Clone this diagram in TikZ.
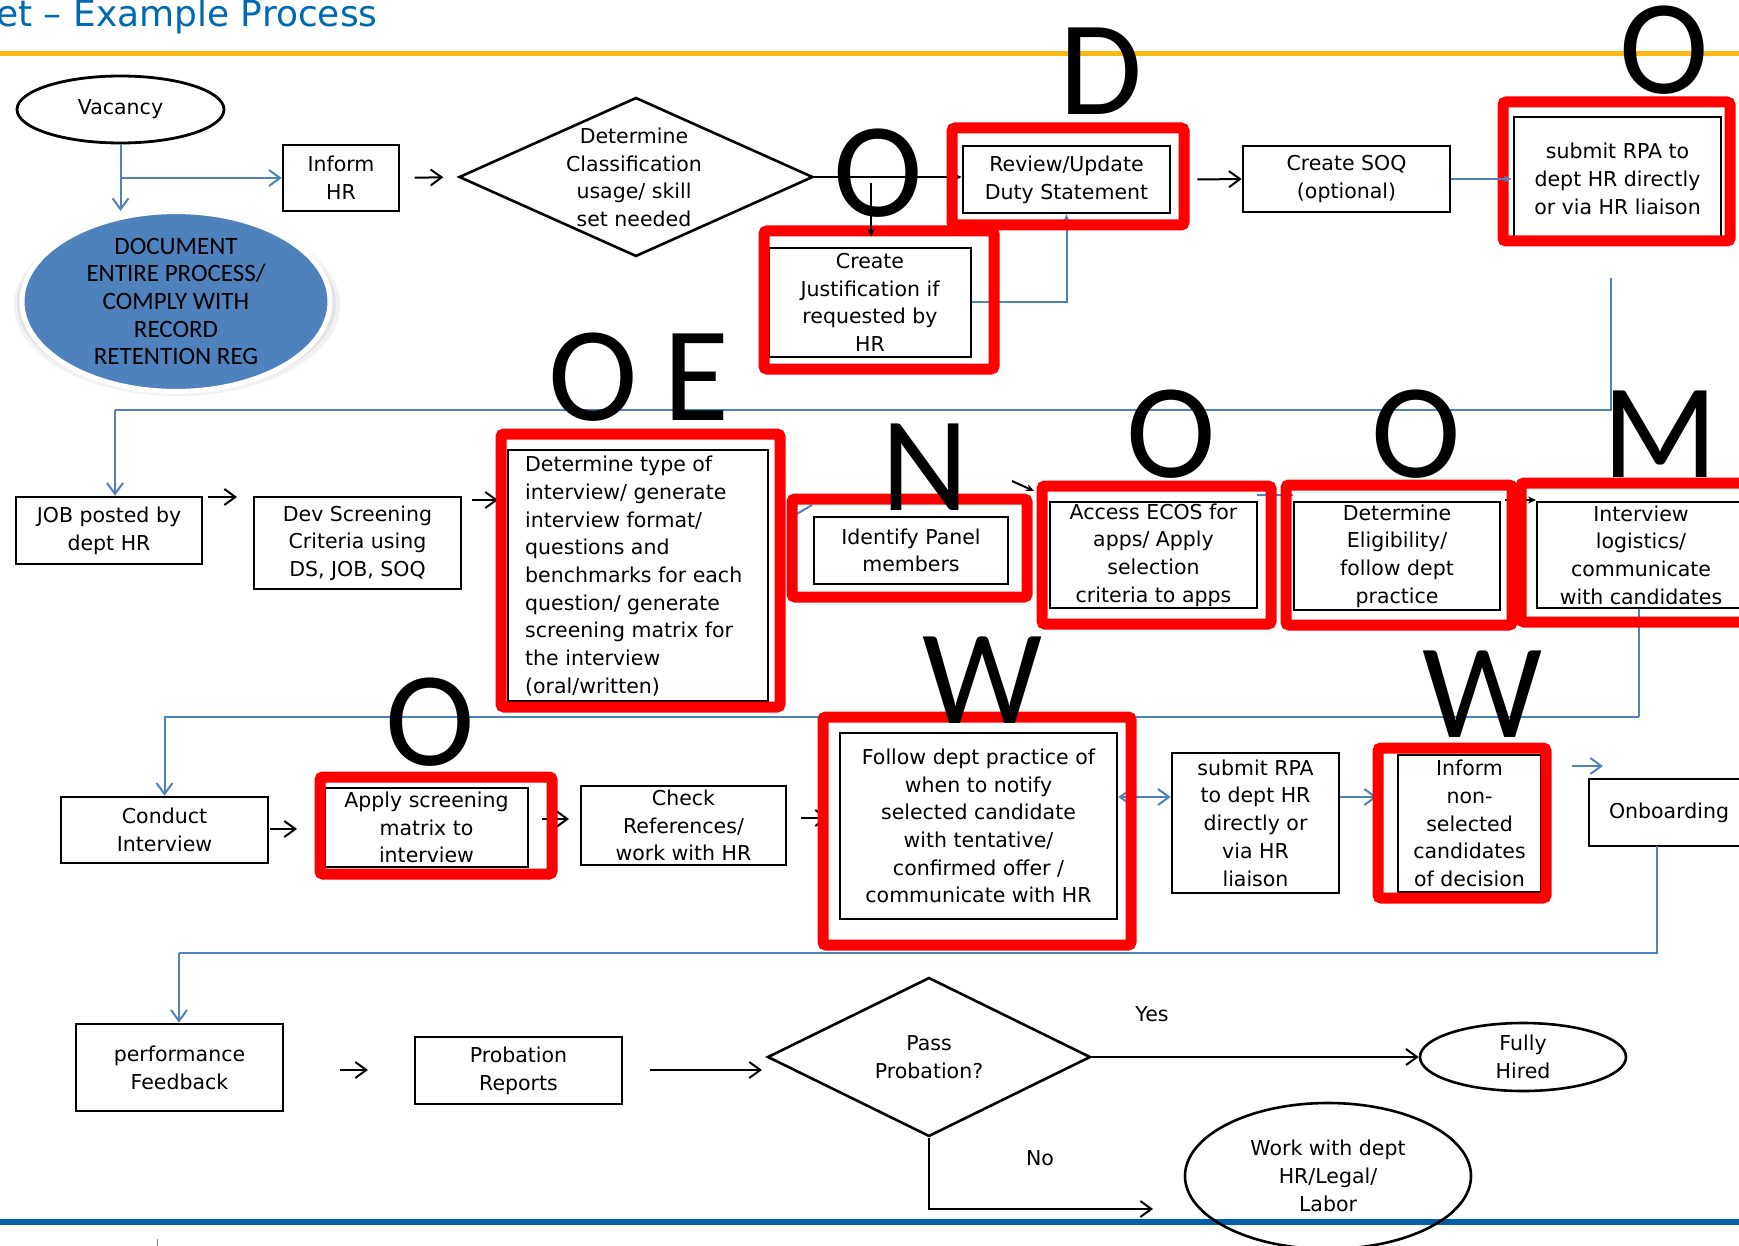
\documentclass[tikz,border=0pt]{standalone}
\usepackage{fontspec}
\usetikzlibrary{arrows.meta,shapes.geometric,calc}
\newfontfamily\dvs{DejaVu Sans}
\newfontfamily\crl{Carlito}
\definecolor{ttlblue}{RGB}{0,105,180}
\definecolor{orng}{RGB}{253,185,19}
\definecolor{lnblue}{RGB}{79,129,189}
\definecolor{botblue}{RGB}{0,98,165}
\definecolor{docblue}{RGB}{79,129,189}
\begin{document}
\begin{tikzpicture}[x=1pt,y=-1pt,
  box/.style={draw, line width=2.6pt, inner sep=0pt, align=center, font=\dvs\fontsize{20.5}{27.7}\selectfont},
  txt/.style={inner sep=0pt, align=center, font=\dvs\fontsize{20.5}{27.7}\selectfont},
  rf/.style={draw=red, line width=11pt, rounded corners=3pt},
  bl/.style={draw=lnblue, line width=2pt},
  bk/.style={draw=black, line width=2pt},
  barb/.style={-{Straight Barb[length=11pt,width=16pt]}},
  dbarb/.style={{Straight Barb[length=11pt,width=16pt]}-{Straight Barb[length=11pt,width=16pt]}},
  tipf/.style={-{Stealth[length=8pt,width=7pt]}},
  big/.style={inner sep=0pt, anchor=base, font=\crl\fontsize{135}{135}\selectfont},
]
\useasboundingbox (0,0) rectangle (1739,1246);
\fill[white] (0,0) rectangle (1739,1246);

% header and footer
\node[anchor=base west, inner sep=0pt, text=ttlblue, font=\dvs\fontsize{36}{40}\selectfont] (title) at (-4,27) {et – Example Process};
\draw[orng, line width=5pt] (0,54) -- (1739,54);
\draw[botblue, line width=6pt] (0,1222) -- (1739,1222);
\draw[gray, line width=0.8pt] (157,1239) -- (157,1246);

% ---------- row 1 ----------
\node[draw, ellipse, line width=2.8pt, minimum width=207pt, minimum height=67pt, inner sep=0pt, font=\dvs\fontsize{20.5}{27.7}\selectfont] (vac) at (120.5,109.5) {Vacancy};
\fill[gray!10] (177,305) ellipse [x radius=163pt, y radius=91pt];
\fill[gray!22] (176.5,303.5) ellipse [x radius=159.5pt, y radius=88pt];
\node[ellipse, fill=docblue, draw=white, line width=5pt, minimum width=308pt, minimum height=168pt, inner sep=0pt, align=center, font=\crl\fontsize{25}{27.7}\selectfont] (doc) at (176,301.5) {DOCUMENT\\ENTIRE PROCESS/\\COMPLY WITH\\RECORD\\RETENTION REG};
\node[box, minimum width=116pt, minimum height=66pt] (inform) at (341,178) {Inform\\HR};
\node[draw, diamond, line width=2.6pt, minimum width=354pt, minimum height=159pt, inner sep=0pt] (dia) at (636,177) {};
\node[txt] (diat) at (634,177.5) {Determine\\Classification\\usage/ skill\\set needed};
\node[box, minimum width=207pt, minimum height=67pt] (review) at (1066.5,179.5) {Review/Update\\Duty Statement};
\node[box, minimum width=202pt, minimum height=109pt] (just) at (870,302.5) {Create\\Justification if\\requested by\\HR};
\node[box, minimum width=207pt, minimum height=66pt] (soq) at (1346.5,179) {Create SOQ\\(optional)};
\node[box, minimum width=207pt, minimum height=124pt] (rpa1) at (1617.5,179) {submit RPA to\\dept HR directly\\or via HR liaison};

% ---------- row 2 ----------
\node[box, minimum width=186pt, minimum height=67pt] (job) at (109,530.5) {JOB posted by\\dept HR};
\node[box, minimum width=207pt, minimum height=92pt] (dev) at (357.5,543) {Dev Screening\\Criteria using\\DS, JOB, SOQ};
\node[box, minimum width=260pt, minimum height=251pt] (dtype) at (638,575.5) {};
\node[txt, align=left, anchor=west] (dtypet) at (525,576) {Determine type of\\interview/ generate\\interview format/\\questions and\\benchmarks for each\\question/ generate\\screening matrix for\\the interview\\(oral/written)};
\node[box, minimum width=194pt, minimum height=67pt] (panel) at (911,550.5) {Identify Panel\\members};
\node[box, minimum width=207pt, minimum height=106pt] (ecos) at (1153.5,555) {Access ECOS for\\apps/ Apply\\selection\\criteria to apps};
\node[box, minimum width=206pt, minimum height=108pt] (elig) at (1397,556) {Determine\\Eligibility/\\follow dept\\practice};
\node[box, minimum width=208pt, minimum height=106pt] (logi) at (1641,555) {Interview\\logistics/\\communicate\\with candidates};

% ---------- row 3 ----------
\node[box, minimum width=207pt, minimum height=66pt] (cond) at (164.5,830) {Conduct\\Interview};
\node[box, minimum width=203pt, minimum height=79pt] (apply) at (426.5,827.5) {Apply screening\\matrix to\\interview};
\node[box, minimum width=205pt, minimum height=79pt] (check) at (683.5,825.5) {Check\\References/\\work with HR};
\node[box, minimum width=277pt, minimum height=186pt] (follow) at (978.5,826) {Follow dept practice of\\when to notify\\selected candidate\\with tentative/\\confirmed offer /\\communicate with HR};
\node[box, minimum width=167pt, minimum height=140pt] (rpa2) at (1255.5,823) {submit RPA\\to dept HR\\directly or\\via HR\\liaison};
\node[box, minimum width=143pt, minimum height=137pt] (inf2) at (1469.5,823.5) {Inform\\non-\\selected\\candidates\\of decision};
\node[box, minimum width=160pt, minimum height=67pt] (onb) at (1669,812.5) {Onboarding};

% ---------- row 4 ----------
\node[box, minimum width=207pt, minimum height=87pt] (perf) at (179.5,1067.5) {performance\\Feedback};
\node[box, minimum width=207pt, minimum height=67pt] (prob) at (518.5,1070.5) {Probation\\Reports};
\node[draw, diamond, line width=2.6pt, minimum width=323pt, minimum height=159pt, inner sep=0pt] (pass) at (929,1057) {};
\node[txt] (passt) at (929,1057) {Pass\\Probation?};
\node[draw, ellipse, line width=2.6pt, minimum width=206pt, minimum height=68pt, inner sep=0pt, align=center, font=\dvs\fontsize{20.5}{27.7}\selectfont] (fully) at (1523,1057) {Fully\\Hired};
\node[draw, ellipse, line width=2.6pt, minimum width=286pt, minimum height=146pt, inner sep=0pt, align=center, font=\dvs\fontsize{20.5}{27.7}\selectfont] (work) at (1328,1176) {Work with dept\\HR/Legal/\\Labor};
\node[txt] (yes) at (1152,1014) {Yes};
\node[txt] (no) at (1040,1158) {No};

% ---------- coordinates for free ends ----------
\coordinate (vd) at (120.5,211);
\coordinate (r1top) at (1611,278);
\coordinate (r1mid) at (1611,410);
\coordinate (jobin) at (115,410);
\coordinate (jd) at (871,183);
\coordinate (a1s) at (208,497);  \coordinate (a1e) at (237,497);
\coordinate (a2s) at (472,500);  \coordinate (a2e) at (498,500);
\coordinate (f1s) at (1012,481); \coordinate (f1e) at (1034,491);
\coordinate (f2s) at (795,515);  \coordinate (f2e) at (812,505);
\coordinate (f3s) at (1257,495); \coordinate (f3e) at (1294,495);
\coordinate (f4s) at (1505,500); \coordinate (f4e) at (1536,500);
\coordinate (lg) at (1639,717);
\coordinate (c1s) at (270,829);  \coordinate (c1e) at (297,829);
\coordinate (c2s) at (542,819);  \coordinate (c2e) at (569,819);
\coordinate (c3s) at (801,818);  \coordinate (c3e) at (828,818);
\coordinate (fr) at (0,797);
\coordinate (ri) at (1377,797);
\coordinate (o1s) at (1572,766); \coordinate (o1e) at (1603,766);
\coordinate (ob) at (1657,846);
\coordinate (obl) at (179,953);
\coordinate (p1s) at (340,1070); \coordinate (p1e) at (368,1070);
\coordinate (p2s) at (650,1070); \coordinate (p2e) at (762,1070);
\coordinate (nw) at (1153,1209);

% ---------- connectors (under red frames) ----------
\draw[bl, barb] (vac.south) -- (vd);
\draw[bl, barb] (vac.south |- inform.west) -- (inform.west);
\draw[bk, barb] ($(inform.east)!0.25!(dia.west)$) -- ($(inform.east)!0.75!(dia.west)$);
\draw[bk, tipf] (dia.east) -- (dia.east -| review.west);
\draw[bl, tipf] (just.east) -| (review.south);
\draw[bk, barb] ($(review.east)+(26,0)$) -- (soq.west);
\draw[bl] (r1top) -- (r1mid) -- (jobin);
\draw[bl, barb] (jobin) -- (jobin |- job.north);
\draw[bk, barb] (a1s) -- (a1e);
\draw[bk, barb] (a2s) -- (a2e);
\draw[bk, tipf] (f1s) -- (f1e);
\draw[bl] (f2s) -- (f2e);
\draw[bl, tipf] (f3s) -- (f3e);
\draw[bk, tipf] (f4s) -- (f4e);
\draw[bl] (lg |- logi.south) -- (lg);
\draw[bl, barb] (lg) -| (cond.north);
\draw[bk, barb] (c1s) -- (c1e);
\draw[bk, barb] (c2s) -- (c2e);
\draw[bk, barb] (c3s) -- (c3e);
\draw[bl, dbarb] (follow.east |- fr) -- (rpa2.west |- fr);
\draw[bl, barb] (rpa2.east |- fr) -- (ri);
\draw[bl, barb] (o1s) -- (o1e);
\draw[bl] (ob) |- (obl);
\draw[bl, barb] (obl) -- (obl |- perf.north);
\draw[bk, barb] (p1s) -- (p1e);
\draw[bk, barb] (p2s) -- (p2e);
\draw[bk, barb] (pass.east) -- (fully.west);
\draw[bk, barb] (pass.south) |- (nw);

% ---------- red frames ----------
\draw[rf] (952,128) rectangle (1184,225);
\draw[rf] (764,231) rectangle (994,369);
\draw[rf] (1503,102) rectangle (1730,241);
\draw[rf] (501,434) rectangle (780,707);
\draw[rf] (792,499) rectangle (1027,597);
\draw[rf] (1042,486) rectangle (1271,624);
\draw[rf] (1286,485) rectangle (1512,625);
\draw[rf] (1521,483) rectangle (1765,622);
\draw[rf] (320,777) rectangle (552,874);
\draw[rf] (823,717) rectangle (1131,945);
\draw[rf] (1378,748) rectangle (1546,898);

% ---------- connectors over frames ----------
\draw[bk, tipf] (jd) -- ($(jd |- just.north)+(0,-10)$);
\draw[bl, tipf] (soq.east) -- ($(rpa1.west)+(-1,0)$);

% ---------- big letters ----------
\node[big] (lD) at (1101,115) {D};
\node[big] (lO1) at (878,217) {O};
\node[big] (lO2) at (1664,94) {O};
\node[big] (lO3) at (593,420) {O};
\node[big] (lE) at (696,420) {E};
\node[big] (lN) at (925,510) {N};
\node[big] (lO4) at (1171,477) {O};
\node[big] (lO5) at (1416,477) {O};
\node[big] (lM) at (1660,477) {M};
\node[big] (lW1) at (983,723) {W};
\node[big] (lW2) at (1483,737) {W};
\node[big] (lO6) at (430,765) {O};
\end{tikzpicture}
\end{document}
